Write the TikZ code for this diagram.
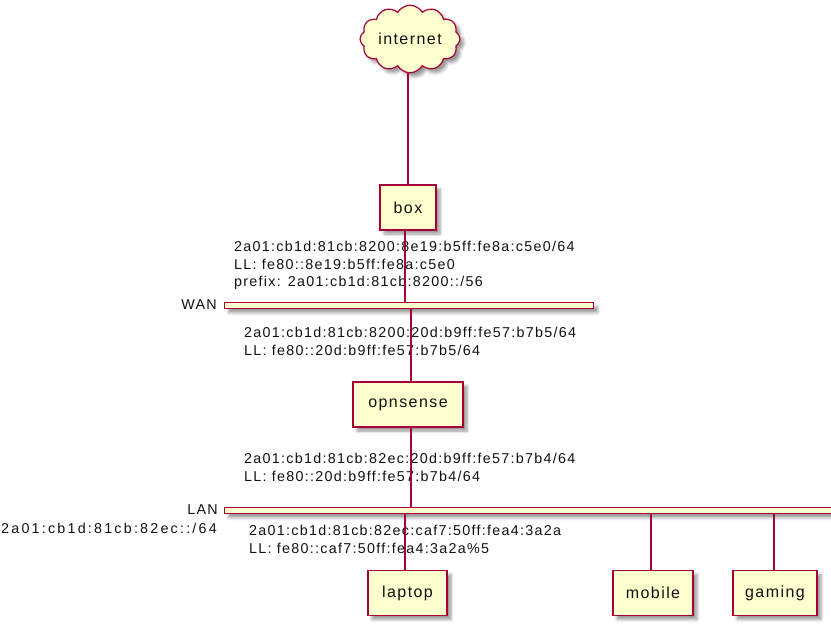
\documentclass[tikz,border=0pt]{standalone}
\usepackage{fontspec}
\setmainfont{Liberation Sans}
\newfontfamily\lblfont[LetterSpace=9]{Liberation Sans}
\newfontfamily\subfont[LetterSpace=15.5]{Liberation Sans}
\newfontfamily\nodefont[LetterSpace=9]{Liberation Sans}
\usetikzlibrary{shapes.symbols,shadows.blur}
\definecolor{pumlred}{HTML}{A80036}
\definecolor{pumlfill}{HTML}{FEFECE}
\definecolor{txt}{HTML}{111111}
\tikzset{
  x=1pt, y=1pt,
  shade/.style={blur shadow={shadow xshift=4pt, shadow yshift=-4pt, shadow blur radius=3pt, shadow opacity=40}},
  hostbox/.style={draw=pumlred, fill=pumlfill, line width=1.3pt, minimum height=45pt, inner sep=0pt, text=txt, font=\nodefont\fontsize{16}{19}\selectfont, shade},
  netbar/.style={draw=pumlred, fill=pumlfill, line width=1.3pt, minimum height=6pt, inner sep=0pt, shade},
  conn/.style={draw=pumlred, line width=1.1pt},
  lbl/.style={inner sep=0pt, align=left, text=txt, font=\lblfont\fontsize{14.3}{17.5}\selectfont},
}
\begin{document}
\begin{tikzpicture}
\useasboundingbox (0,0) rectangle (831,-632);
% networks
\node[netbar, minimum width=369pt, anchor=north west] (wan) at (224,-302) {};
\node[netbar, minimum width=620pt, anchor=north west] (lan) at (224,-507) {};
% hosts
\node[cloud, cloud puffs=12, cloud puff arc=120, aspect=1.6, minimum width=100pt, minimum height=62pt, draw=pumlred, fill=pumlfill, line width=1.2pt, inner sep=0pt, text=txt, font=\nodefont\fontsize{16}{19}\selectfont, shade] (internet) at (410,-39) {internet};
\node[hostbox, minimum width=56pt] (box) at (408,-207.5) {box};
\node[hostbox, minimum width=110pt] (opnsense) at (408,-404.5) {opnsense};
\node[hostbox, minimum width=79pt] (laptop) at (407.5,-593) {laptop};
\node[hostbox, minimum width=80pt] (mobile) at (653,-593) {mobile};
\node[hostbox, minimum width=84pt] (gaming) at (775,-593) {gaming};
% labels
\node[lbl, anchor=west] (boxlbl) at (234,-265.5) {2a01:cb1d:81cb:8200:8e19:b5ff:fe8a:c5e0/64\\LL: fe80::8e19:b5ff:fe8a:c5e0\\prefix: 2a01:cb1d:81cb:8200::/56};
\node[lbl, anchor=east] (wanname) at (217,-305) {WAN};
\node[lbl, anchor=west] (opnwan) at (244,-341.5) {2a01:cb1d:81cb:8200:20d:b9ff:fe57:b7b5/64\\LL: fe80::20d:b9ff:fe57:b7b5/64};
\node[lbl, anchor=west] (opnlan) at (244,-467.5) {2a01:cb1d:81cb:82ec:20d:b9ff:fe57:b7b4/64\\LL: fe80::20d:b9ff:fe57:b7b4/64};
\node[lbl, anchor=east] (lanname) at (218,-510) {LAN};
\node[inner sep=0pt, text=txt, font=\subfont\fontsize{14.3}{17.5}\selectfont, anchor=east] (lansub) at (217,-528.5) {2a01:cb1d:81cb:82ec::/64};
\node[lbl, anchor=west] (laptoplbl) at (249,-539.5) {2a01:cb1d:81cb:82ec:caf7:50ff:fea4:3a2a\\LL: fe80::caf7:50ff:fea4:3a2a\%5};
% connectors
\draw[conn] (box.north) -- (box.north |- internet.south);
\draw[conn] ([xshift=-3pt]box.south) -- ([xshift=-3pt]box.south |- wan.north);
\draw[conn] ([xshift=3pt]opnsense.north) -- ([xshift=3pt]opnsense.north |- wan.south);
\draw[conn] ([xshift=3pt]opnsense.south) -- ([xshift=3pt]opnsense.south |- lan.north);
\draw[conn] ([xshift=-2.5pt]laptop.north) -- ([xshift=-2.5pt]laptop.north |- lan.south);
\draw[conn] ([xshift=-2pt]mobile.north) -- ([xshift=-2pt]mobile.north |- lan.south);
\draw[conn] ([xshift=-1pt]gaming.north) -- ([xshift=-1pt]gaming.north |- lan.south);
\end{tikzpicture}
\end{document}
